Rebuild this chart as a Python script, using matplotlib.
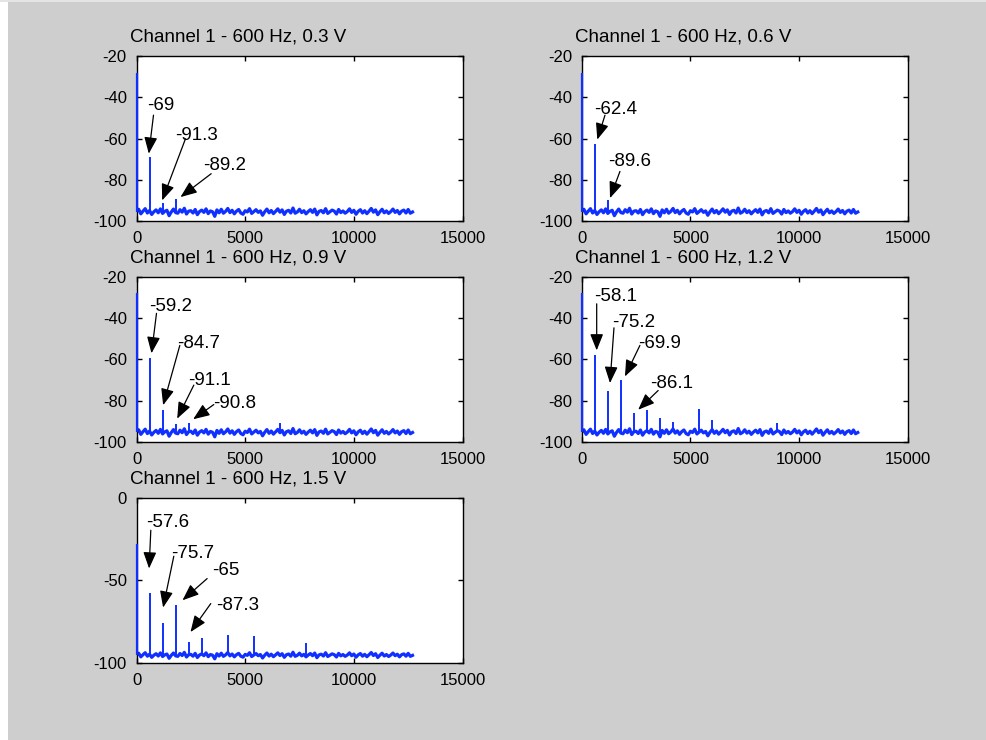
import numpy as np
import matplotlib.pyplot as plt
from matplotlib.patches import Rectangle

plt.rcParams['font.family'] = ['Liberation Sans', 'DejaVu Sans']
plt.rcParams['axes.unicode_minus'] = False

titles = ['Channel 1 - 600 Hz, 0.3 V', 'Channel 1 - 600 Hz, 0.6 V',
          'Channel 1 - 600 Hz, 0.9 V', 'Channel 1 - 600 Hz, 1.2 V',
          'Channel 1 - 600 Hz, 1.5 V']

# noise floor, one value every 100 Hz (0 .. 12700 Hz)
floor_hz = np.arange(0, 12800, 100)
floor_db = [
    -95.2, -94.1, -96.3, -95.0, -93.8, -95.9, -94.7, -96.6, -95.3, -94.4,
    -95.8, -93.9, -96.1, -95.1, -94.6, -97.2, -95.4, -94.0, -95.7, -96.0,
    -94.3, -95.5, -93.6, -96.4, -95.0, -94.8, -95.9, -94.2, -96.7, -95.2,
    -94.5, -95.6, -93.9, -96.2, -94.9, -95.3, -97.5, -94.4, -95.8, -94.1,
    -96.0, -95.1, -93.7, -95.7, -94.6, -96.3, -95.0, -94.2, -95.9, -96.5,
    -94.8, -95.4, -93.8, -96.1, -95.2, -94.3, -95.6, -94.9, -97.0, -95.3,
    -94.0, -95.8, -94.7, -96.2, -95.1, -93.9, -95.5, -94.4, -96.6, -95.0,
    -94.6, -95.9, -93.5, -96.0, -95.4, -94.1, -95.7, -94.8, -96.3, -95.2,
    -94.3, -95.6, -94.0, -96.8, -95.1, -94.7, -95.8, -93.8, -96.1, -95.3,
    -94.5, -95.0, -96.4, -94.2, -95.7, -94.9, -96.0, -95.2, -93.9, -95.6,
    -94.6, -96.5, -95.1, -94.3, -95.9, -94.8, -96.2, -95.0, -93.7, -95.5,
    -94.4, -96.7, -95.3, -94.1, -95.8, -94.9, -96.1, -95.2, -94.0, -95.6,
    -94.7, -96.3, -95.0, -94.5, -95.9, -94.2, -96.0, -95.4]

dc_db = -28

# spectral lines (Hz, dB)
freqs_03 = [600, 1200, 1800]
db_03 = [-69, -91.3, -89.2]
freqs_06 = [600, 1200]
db_06 = [-62.4, -89.6]
freqs_09 = [600, 1200, 1800, 2400, 6600]
db_09 = [-59.2, -84.7, -91.1, -90.8, -91.0]
freqs_12 = [600, 1200, 1800, 2400, 3000, 3600, 4200, 5400, 6000, 9000]
db_12 = [-58.1, -75.2, -69.9, -86.1, -84.5, -88.5, -90.4, -84.2, -89.4, -91.0]
freqs_15 = [600, 1200, 1800, 2400, 3000, 4200, 5400, 7800]
db_15 = [-57.6, -75.7, -65, -87.3, -85.0, -83.0, -83.7, -88.0]

labels_03 = ['-69', '-91.3', '-89.2']
labels_06 = ['-62.4', '-89.6']
labels_09 = ['-59.2', '-84.7', '-91.1', '-90.8']
labels_12 = ['-58.1', '-75.2', '-69.9', '-86.1']
labels_15 = ['-57.6', '-75.7', '-65', '-87.3']

# annotation layout: text (left, mid), arrow tail, arrow tip
notes_03 = [((506, -44.0), (782, -48.6), (566, -67.2)),
            ((1794, -58.3), (2254, -60.0), (1181, -89.8)),
            ((3082, -72.9), (3436, -76.9), (2024, -88.2))]
notes_06 = [((567, -45.7), (1070, -48.6), (716, -60.4)),
            ((1208, -70.9), (1758, -75.8), (1301, -88.7))]
notes_09 = [((598, -34.5), (920, -37.8), (690, -57.1)),
            ((1886, -52.6), (1993, -53.3), (1226, -82.2)),
            ((2374, -70.1), (2637, -72.5), (1872, -88.7)),
            ((3542, -81.4), (3556, -81.9), (2608, -89.0))]
notes_12 = [((565, -29.8), (688, -33.2), (688, -55.7)),
            ((1409, -42.0), (1483, -44.8), (1300, -71.5)),
            ((2584, -52.5), (2676, -53.3), (1988, -68.3)),
            ((3135, -71.5), (3516, -75.1), (2598, -84.4))]
notes_15 = [((428, -15.1), (658, -19.8), (580, -42.9)),
            ((1610, -33.9), (1716, -35.5), (1224, -66.5)),
            ((3487, -44.0), (3250, -49.0), (2116, -62.1)),
            ((3648, -65.3), (3418, -64.1), (2484, -81.3))]

panels = [
    (freqs_03, db_03, labels_03, notes_03, [0.1383, 0.7007]),
    (freqs_06, db_06, labels_06, notes_06, [0.5894, 0.7007]),
    (freqs_09, db_09, labels_09, notes_09, [0.1383, 0.4027]),
    (freqs_12, db_12, labels_12, notes_12, [0.5894, 0.4027]),
    (freqs_15, db_15, labels_15, notes_15, [0.1383, 0.1041]),
]

blue = '#0f30ff'
fig = plt.figure(figsize=(9.87, 7.40), dpi=100, facecolor='#cecece')
fig.patches.append(Rectangle((0, 0), 8 / 987, 1, transform=fig.transFigure,
                             facecolor='white', edgecolor='none'))
fig.patches.append(Rectangle((0, 1 - 2 / 740), 1, 2 / 740, transform=fig.transFigure,
                             facecolor='#e4e4e4', edgecolor='none'))

for i, (freqs, db, labels, notes, pos) in enumerate(panels):
    ax = fig.add_axes([pos[0], pos[1], 0.3303, 0.2236])
    ax.plot(floor_hz, floor_db, color=blue, lw=2.3)
    ax.vlines(freqs, -95.3, db, color=blue, lw=1.4)
    ax.vlines([0], -95.3, dc_db, color=blue, lw=1.6, clip_on=False, zorder=3)
    for lab, (txy, tail, tip) in zip(labels, notes):
        ax.text(txy[0], txy[1], lab, ha='left', va='center', fontsize=13.5)
        ax.annotate('', xy=tip, xytext=tail,
                    arrowprops=dict(arrowstyle='-|>,head_length=1.0,head_width=0.4',
                                    mutation_scale=10, color='black', lw=0.9,
                                    shrinkA=0, shrinkB=0))
    ax.set_xlim(0, 15000)
    ax.set_xticks([0, 5000, 10000, 15000])
    if i == 4:
        ax.set_ylim(-100, 0)
        ax.set_yticks([-100, -50, 0])
    else:
        ax.set_ylim(-100, -20)
        ax.set_yticks([-100, -80, -60, -40, -20])
    ax.tick_params(direction='in', top=True, right=True, length=3.5, width=1.0,
                   pad=7, labelsize=12)
    for s in ax.spines.values():
        s.set_linewidth(1.0)
    ax.text(-0.02, 1.085, titles[i], transform=ax.transAxes, ha='left',
            va='baseline', fontsize=13.5)

fig.savefig('out.png', dpi=100, facecolor=fig.get_facecolor())
